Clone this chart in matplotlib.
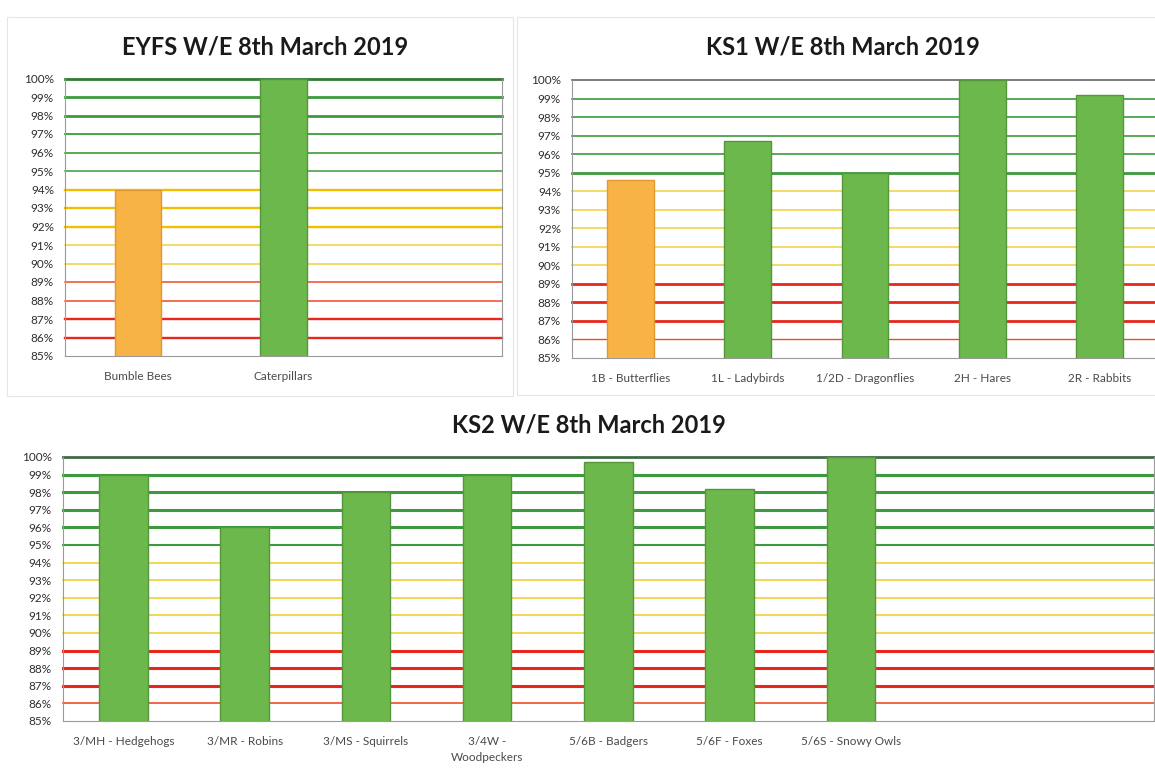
import matplotlib.pyplot as plt
from matplotlib.patches import Rectangle

plt.rcParams['font.family'] = ['Lato', 'DejaVu Sans']

# data
title_eyfs = "EYFS W/E 8th March 2019"
classes_eyfs = ["Bumble Bees", "Caterpillars"]
att_eyfs = [94.0, 100.0]

title_ks1 = "KS1 W/E 8th March 2019"
classes_ks1 = ["1B - Butterflies", "1L - Ladybirds", "1/2D - Dragonflies", "2H - Hares", "2R - Rabbits"]
att_ks1 = [94.6, 96.7, 95.0, 100.0, 99.2]

title_ks2 = "KS2 W/E 8th March 2019"
classes_ks2 = ["3/MH - Hedgehogs", "3/MR - Robins", "3/MS - Squirrels", "3/4W -\nWoodpeckers",
               "5/6B - Badgers", "5/6F - Foxes", "5/6S - Snowy Owls"]
att_ks2 = [99.0, 96.0, 98.0, 99.0, 99.7, 98.2, 100.0]

levels = list(range(85, 101))
target = 95    # green from here
warning = 90   # yellow from here

GREEN = "#6cb84c"
ORANGE = "#f8b347"


def line_colour(lv, lw):
    if lv >= target:
        return "#3c9a3c"
    if lv >= warning:
        return "#f2bf00" if lw > 1.4 else "#f1d03a"
    return "#e8261c" if lw > 1.4 else "#ef4a26"


def draw_chart(ax, names, values, nslots, widths, bar_w, top_colour):
    # widths: one per gridline, 86% up to 100%
    ax.set_xlim(-0.5, nslots - 0.5)
    ax.set_ylim(85, 100)
    for lv, lw in zip(levels[1:], widths):
        c = top_colour if lv == 100 else line_colour(lv, lw)
        ax.axhline(lv, color=c, lw=lw, zorder=1, clip_on=False)
    colours = [GREEN if v >= target else ORANGE for v in values]
    edges = ["#55963a" if v >= target else "#e0982f" for v in values]
    ax.bar(range(len(values)), values, width=bar_w, color=colours,
           edgecolor=edges, linewidth=1.0, zorder=3)
    ax.set_yticks(levels)
    ax.set_yticklabels([f"{lv}%" for lv in levels], fontsize=8.5, color="#2e2e2e")
    ax.set_xticks(range(len(names)))
    ax.set_xticklabels(names, fontsize=8.5, color="#4a4a4a", linespacing=1.5)
    ax.tick_params(axis="y", length=0, pad=8)
    ax.tick_params(axis="x", length=0, pad=11)
    for s in ax.spines.values():
        s.set_color("#9a9a9a")
        s.set_linewidth(0.8)
    ax.spines["top"].set_visible(False)
    ax.set_facecolor("white")


fig = plt.figure(figsize=(11.55, 7.74), dpi=100)
W, H = 1155, 774


def px_axes(x0, y0, x1, y1):
    return fig.add_axes([x0 / W, 1 - y1 / H, (x1 - x0) / W, (y1 - y0) / H])


# faint chart frames as on the sheet
for (x0, y0, x1, y1) in [(7, 17, 513, 396), (517, 17, 1165, 395)]:
    fig.patches.append(Rectangle((x0 / W, 1 - y1 / H), (x1 - x0) / W, (y1 - y0) / H,
                                 transform=fig.transFigure, fill=False,
                                 edgecolor="#e6e6e6", lw=0.8))

ax1 = px_axes(65, 78.5, 502, 356)
draw_chart(ax1, classes_eyfs, att_eyfs, 3,
           [1.7, 1.7, 1.1, 1.1, 1.1, 1.1, 1.7, 1.7, 1.7, 1.1, 1.2, 1.3, 2.0, 2.0, 2.0],
           0.32, "#2f7a34")
fig.text(265 / W, 1 - 47 / H, title_eyfs, ha="center", va="center",
         fontsize=17, fontweight="bold", color="#1a1a1a")

ax2 = px_axes(572, 80, 1158, 358)
draw_chart(ax2, classes_ks1, att_ks1, 5,
           [1.0, 2.0, 2.0, 2.0, 1.1, 1.1, 1.1, 1.1, 1.1, 2.0, 1.2, 1.2, 1.2, 1.2, 1.2],
           0.40, "#666666")
ax2.spines["right"].set_visible(False)
fig.text(843 / W, 1 - 47 / H, title_ks1, ha="center", va="center",
         fontsize=17, fontweight="bold", color="#1a1a1a")

ax3 = px_axes(62.7, 457, 1154, 721)
draw_chart(ax3, classes_ks2, att_ks2, 9,
           [1.2, 2.2, 2.2, 2.2, 1.2, 1.2, 1.2, 1.2, 1.2, 1.5, 2.2, 2.2, 2.2, 2.2, 2.0],
           0.40, "#3f6a45")
fig.text(589 / W, 1 - 425 / H, title_ks2, ha="center", va="center",
         fontsize=17, fontweight="bold", color="#1a1a1a")

fig.savefig("out.png", dpi=100)
